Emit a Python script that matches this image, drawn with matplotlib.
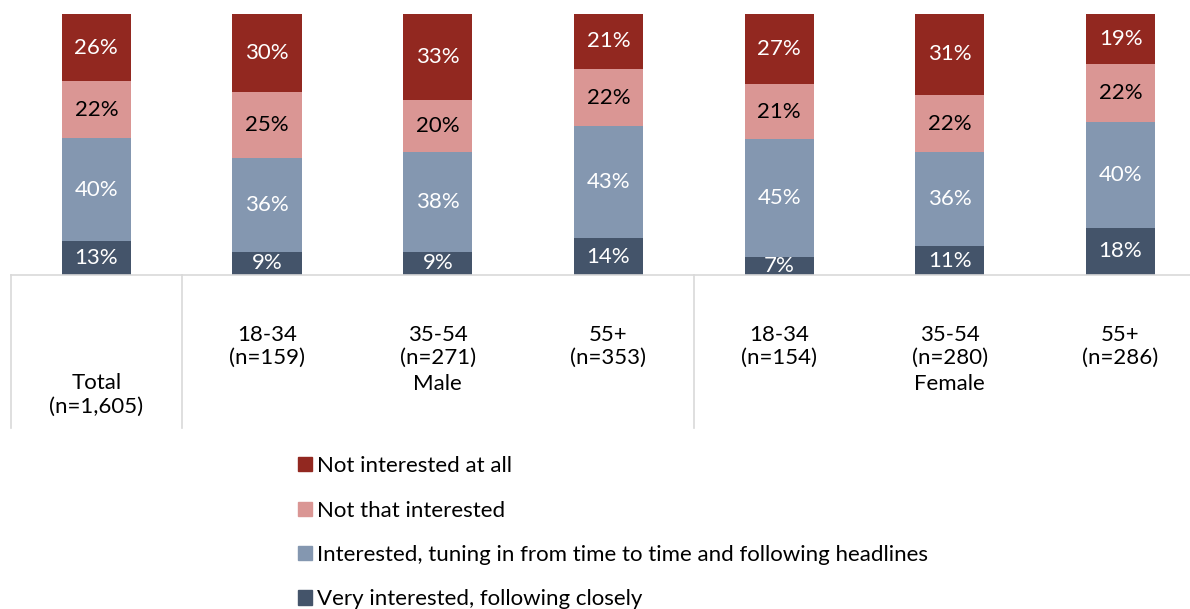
import matplotlib.pyplot as plt
from matplotlib.patches import Patch
import numpy as np

plt.rcParams['font.family'] = ['Lato', 'DejaVu Sans']

groups = ["Total\n(n=1,605)", "18-34\n(n=159)", "35-54\n(n=271)", "55+\n(n=353)",
          "18-34\n(n=154)", "35-54\n(n=280)", "55+\n(n=286)"]
very = [13, 9, 9, 14, 7, 11, 18]
tuning = [40, 36, 38, 43, 45, 36, 40]
not_that = [22, 25, 20, 22, 21, 22, 22]
not_at_all = [26, 30, 33, 21, 27, 31, 19]

series = [
    ("Very interested, following closely", very, "#44546a", "white"),
    ("Interested, tuning in from time to time and following headlines", tuning, "#8497b0", "white"),
    ("Not that interested", not_that, "#da9694", "black"),
    ("Not interested at all", not_at_all, "#922820", "white"),
]

W, H = 1190, 609
FS = 16
fig = plt.figure(figsize=(W / 100, H / 100), dpi=100)
ax = fig.add_axes([11 / W, 1 - 275 / H, (W - 11) / W, (275 - 14) / H])

x = np.arange(len(groups))
totals = np.sum([s[1] for s in series], axis=0)
bottom = np.zeros(len(groups))
for name, vals, color, tcol in series:
    h = np.array(vals) / totals * 100
    ax.bar(x, h, 0.405, bottom=bottom, color=color, edgecolor="none")
    for xi, b, hi, v in zip(x, bottom, h, vals):
        ax.text(xi, b + hi / 2, f"{v}%", ha="center", va="center",
                color=tcol, fontsize=FS)
    bottom += h

ax.set_xlim(-0.5, (W - 11) / 170.7 - 0.5)
ax.set_ylim(0, 100)
ax.axis("off")
ax.axhline(0, color="#d9d9d9", lw=1.2, clip_on=False)

# category table below the bars
for b in [-0.5, 0.5, 3.5]:
    ax.plot([b, b], [0, -58.6], color="#d9d9d9", lw=1.2, clip_on=False)

for i, g in enumerate(groups):
    y = -46 if i == 0 else -27.4
    ax.text(i, y, g, ha="center", va="center", fontsize=FS, linespacing=1.22)
ax.text(2, -41.8, "Male", ha="center", va="center", fontsize=FS)
ax.text(5, -41.8, "Female", ha="center", va="center", fontsize=FS)

handles = [Patch(color=c, label=n) for n, v, c, t in series[::-1]]
fig.legend(handles=handles, loc="upper left", bbox_to_anchor=(287 / W, 1 - 445 / H),
           frameon=False, fontsize=FS, handlelength=0.62, handleheight=0.62,
           handletextpad=0.25, labelspacing=1.1, borderpad=0)

fig.savefig("out.png", dpi=100)
